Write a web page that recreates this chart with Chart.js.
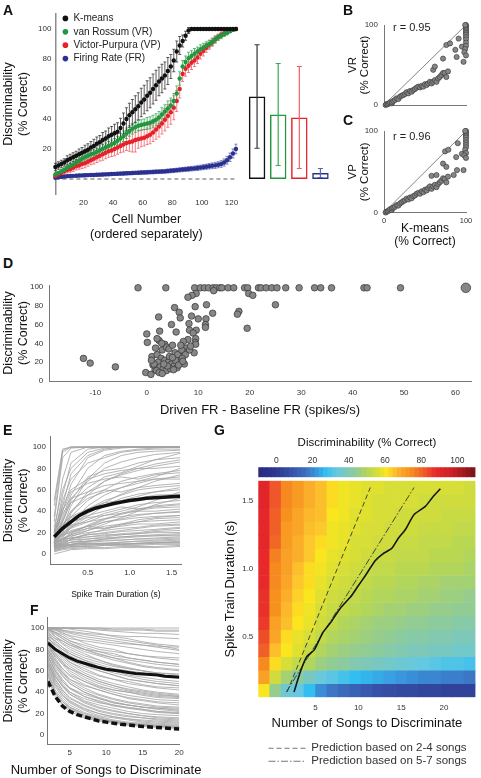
<!DOCTYPE html>
<html>
<head>
<meta charset="utf-8">
<title>Spike train discriminability</title>
<script src="https://cdn.jsdelivr.net/npm/chart.js@4.4.1/dist/chart.umd.min.js"></script>
<style>
  html, body { margin: 0; padding: 0; overflow: hidden; background: #fff; }
  body { position: relative; width: 481px; height: 778px; font-family: "Liberation Sans", Arial, sans-serif; color: #111; }
  canvas { position: absolute; }
  .panel { position: absolute; font-size: 14px; font-weight: bold; line-height: 1; }
  .note { position: absolute; font-size: 11px; line-height: 1; white-space: nowrap; color: #222; }
</style>
</head>
<body>
<canvas id="chartA" width="248" height="245" style="left:0px;top:0px"></canvas>
<canvas id="chartBars" width="100" height="245" style="left:240px;top:0px"></canvas>
<canvas id="legendA" width="115" height="140" style="left:59px;top:10px"></canvas>
<canvas id="chartB" width="141" height="108" style="left:340px;top:10px"></canvas>
<canvas id="chartC" width="141" height="135" style="left:340px;top:120px"></canvas>
<canvas id="chartD" width="481" height="150" style="left:0px;top:272px"></canvas>
<canvas id="chartE" width="195" height="180" style="left:0px;top:425px"></canvas>
<canvas id="chartF" width="212" height="173" style="left:0px;top:605px"></canvas>
<canvas id="chartG" width="260" height="263" style="left:221px;top:470px"></canvas>
<canvas id="colorbar" width="243" height="50" style="left:240px;top:430px"></canvas>
<canvas id="legendG" width="214" height="80" style="left:267px;top:741px"></canvas>

<div class="panel" style="left:3px;top:3px">A</div>
<div class="panel" style="left:343px;top:3px">B</div>
<div class="panel" style="left:343px;top:113px">C</div>
<div class="panel" style="left:3px;top:256px">D</div>
<div class="panel" style="left:3px;top:423px">E</div>
<div class="panel" style="left:30px;top:603px">F</div>
<div class="panel" style="left:214px;top:423px">G</div>
<div class="note" style="left:393px;top:21.6px">r = 0.95</div>
<div class="note" style="left:393px;top:130.6px">r = 0.96</div>

<script>
// ---------- A: per-cell discriminability, each metric sorted separately ----------
const cells = Array.from({ length: 62 }, (_, i) => 2 * i + 1); // every other cell
const kmeans = [8,9,10,11,12.5,13.5,14.5,15.5,16.5,17.5, 18.5,19.5,21,22,23.5,24.5,26,27,28.5,29.5,
  30.5,31.5,34,37,40,42.5,44.5,46.5,48.5,51, 53,55.5,57.5,60,62.5,65,67,69,72,75,
  79,85,89,92,95.5,99,100,100,100,100, 100,100,100,100,100,100,100,100,100,100, 100,100];
const kmeansErr = [2.5,2.5,2.5,2.5,3,3,3,3,3.5,3.5, 4,4,4,4.5,4.5,4.5,5,5,5.5,5.5,
  6,6,6.5,7,7.5,8,8.5,9,9,9.5, 9.5,10,10,10,10,9.5,9.5,9,9,8,
  7.5,7,6,4,3,2,0.5,0.5,0.5,0.5, 0.5,0.5,0.5,0.5,0.5,0.5,0.5,0.5,0.5,0.5, 0.5,0.5];
const vanRossum = [3,4,5,6,7.5,8.5,9.5,11,12,13.5, 14.5,15.5,16.5,17,18,19,20,21,22,23,
  24,25.5,27,28.5,30.5,32,33.5,34.5,35.5,36, 36.5,37,37.5,38.5,39.5,41,43,45,47,49,
  52,57,67,75,78,80.5,82,83.5,85,86.5, 87.5,89,90,91.5,93,94.5,95.5,96.5,97.5,98.5, 99.5,100];
const vanRossumErr = [1,1,1.5,1.5,1.5,2,2,2,2,2, 2.5,2.5,2.5,2.5,2.5,3,3,3,3,3,
  3,3,3.5,3.5,3.5,3.5,3.5,3.5,3.5,3.5, 3.5,4,4,4,4,4,4.5,4.5,5,5,
  5,5,4.5,4,4,4,3.5,3.5,3,3, 3,2.5,2.5,2.5,2,2,2,1.5,1.5,1, 1,0.5];
const victorPurpura = [2,3,4,5,6,6.5,7.5,8.5,9,10, 10.5,11.5,12.5,13.5,14.5,15.5,16.5,17.5,18.5,19,
  20,21,22,23,24,24.5,25,26,26.5,27, 27.5,28.5,29.5,31,33,35,37,39.5,42,44.5,
  47.5,52,60,70,73.5,75.5,77.5,79,81,83.5, 85.5,87.5,89.5,91,93,94.5,96,97,98,99, 99.5,100];
const victorPurpuraErr = [1,1.5,1.5,2,2,2,2.5,2.5,2.5,3, 3,3,3,3.5,3.5,3.5,4,4,4,4,
  4.5,4.5,4.5,5,5,6,7,8,6,5.5, 5.5,5.5,6,6,6.5,7,7,7.5,7.5,8,
  8,7,6,5,5,4.5,4.5,4,4,3.5, 3.5,3,3,2.5,2.5,2,2,1.5,1.5,1, 1,0.5];
const firingRate = [0.8,1.1,1.4,1.6,1.8,2,2.1,2.2,2.3,2.4, 2.5,2.6,2.7,2.7,2.8,2.9,3,3.1,3.2,3.3,
  3.4,3.5,3.6,3.7,3.8,3.9,4,4.1,4.2,4.3, 4.4,4.5,4.6,4.7,4.8,4.9,5,5.1,5.3,5.5,
  5.7,5.9,6.1,6.3,6.5,6.7,6.9,7.1,7.3,7.6, 7.9,8.2,8.5,8.8,9.1,9.5,10,11,12.5,14.5, 17,20];
const firingRateErr = [0.6,0.6,0.7,0.7,0.8,0.8,0.8,0.9,0.9,0.9, 1,1,1,1,1,1,1,1,1,1,
  1,1,1.1,1.1,1.1,1.1,1.1,1.1,1.1,1.1, 1.2,1.2,1.2,1.2,1.2,1.2,1.2,1.3,1.3,1.3,
  1.3,1.3,1.4,1.4,1.4,1.5,1.5,1.5,1.6,1.6, 1.7,1.7,1.8,1.9,2,2,2.2,2.4,2.6,2.8, 3,3.2];
const metricNames = ['K-means', 'van Rossum (VR)', 'Victor-Purpura (VP)', 'Firing Rate (FR)'];
const metricColors = ['#111111', '#23963f', '#e62129', '#2b318f'];
const errorColors = ['#333333', '#3aa955', '#f0606a', '#5a62b5'];
const aXTicks = [20, 40, 60, 80, 100, 120];
const aYTicks = [20, 40, 60, 80, 100];

// population means (bars)
const barMeans = [55, 43, 41, 4];
const barSd = [34.5, 34, 34, 3];

// ---------- B, C: K-means vs spike-distance metrics ----------
const kmVsVR = [[2,0],[3,1],[4.5,1],[6,2],[7.3,3.3],[9.4,2],[10,3.5],[11.4,5],[13.4,6.3],[15.4,8.3],
  [17.5,7.5],[19.5,10.4],[21.5,11.7],[23.6,12.5],[25.6,13.8],[27.6,16],[29.7,14.6],[31.7,17.5],[33.7,16.7],[35.8,18.8],
  [37.8,20],[39.8,21.7],[41.9,23],[44,22],[46,24],[48,23],[50,26],[52,25],[54,27],[56,29],
  [58,27],[60,29],[62,31],[64,29],[66,33],[68,35],[70,37.5],[72,40],[74,40],[76,35],
  [78,42],[60,44],[62,48],[72,58],[76,75],[80.5,77],[87,69],[88.6,60],[91,83],[95,73],
  [97,54],[100,100],[100,98],[100,96],[100,94],[100,92],[100,90],[100,88],[100,85],[100,82],
  [100,78],[100,74],[99,70],[98,66],[100,62],[99,100]];
const kmVsVP = [[2,0],[3,1],[4.5,1.5],[6,2.5],[7.3,4],[9.4,3],[10,5],[11.4,6],[13.4,7],[15.4,9],
  [17.5,8.5],[19.5,11],[21.5,12.5],[23.6,14],[25.6,15],[27.6,17],[29.7,16],[31.7,18.5],[33.7,17.5],[35.8,20],
  [37.8,21],[39.8,23],[41.9,24],[44,23],[46,26],[48,25],[50,28],[52,27],[54,30],[56,32],
  [58,29],[60,32],[62,34],[64,31],[66,35],[68,37],[70,39],[72,42],[74,41],[76,37],
  [78,44],[58,45],[64,46],[72,60],[76,56],[85,46],[89,52],[97,52],[74.5,75],[78.5,77],
  [90,85],[95,72],[88,68],[100,100],[100,98],[100,96],[100,94],[100,92],[100,89],[100,86],
  [100,83],[100,80],[99,77],[100,73],[98,70],[100,67],[99,100]];

// ---------- D: discriminability vs driven minus baseline firing rate ----------
const frDiff = [[-1.7,99],[3.7,99],[9.3,99],[10.4,99],[11.2,99],[12.0,99],[12.9,99],[13.5,99],[14.2,99],[14.6,99],
  [15.8,99],[16.9,99],[19.0,99],[19.6,99],[21.7,99],[22.2,99],[23.2,99],[24.3,99],[25.3,99],[27.0,99],
  [29.6,99],[32.6,99],[33.8,99],[35.9,99],[42.2,99],[42.8,99],[49.3,99],[62.0,99],
  [13.0,96],[9.6,93],[8.8,91],[8.0,89],[19.8,93],[20.6,91],[25.0,81],[17.9,74],[17.6,71],[19.5,56],
  [11.6,81],[12.8,72],[9.4,79],[5.4,78],[6.3,73],[6.5,67],[4.8,60],[5.7,52],[2.3,68],[2.5,53],
  [0.0,50],[0.1,41],[2.4,43],[3.5,39],[1.7,35],[8.7,69],[8.2,61],[8.3,54],[9.6,54],[11.5,66],
  [11.4,60],[11.4,57],[9.0,51],[9.5,45],[9.4,41],[9.5,39],[9.2,30],[8.0,44],[7.1,42],[7.7,35],
  [7.1,31],[6.5,26],[-12.3,24],[-11.0,19],[-6.1,15],[-0.2,9],[0.8,7],[1.6,12],[1.2,17],[1.0,26],
  [2.0,28],[3.0,33],[3.8,36],[4.3,34],[5.0,38],[5.5,30],[6.0,28],[6.8,33],[7.5,28],[8.3,33],
  [2.8,24],[3.5,22],[4.2,20],[4.8,18],[5.3,16],[5.9,14],[6.4,20],[6.9,24],[7.3,18],[2.2,20],
  [2.6,15],[3.2,13],[3.8,11],[4.6,13],[5.2,12],[1.9,11],[2.4,9],[3.0,8],[1.4,18],[0.9,22],
  [4.0,16],[5.6,22],[6.2,17],[7.0,21],[3.3,18],[4.4,26],[2.9,40],[2.0,45],[5.0,25],[6.6,38],
  [8.5,37],[10.0,66]];
const dXTicks = [-10, 0, 10, 20, 30, 40, 50, 60];
const dYTicks = [0, 20, 40, 60, 80, 100];

// ---------- E: discriminability vs spike train duration ----------
const eDur = [0.1, 0.2, 0.3, 0.5, 0.7, 0.9, 1.1, 1.3, 1.6];
const eCells = [
  [45,97,100,100,100,100,100,100,100], [30,90,99,100,100,100,100,100,100], [20,70,95,100,100,100,100,100,100],
  [15,55,85,98,100,100,100,100,100], [25,60,80,95,99,100,100,100,100], [12,40,65,90,97,99,100,100,100],
  [10,35,55,80,92,96,98,99,100], [18,50,70,85,90,95,97,98,98], [8,25,45,70,85,92,95,96,97],
  [14,30,50,72,78,80,85,88,90], [22,45,60,70,75,78,80,80,82], [10,25,40,55,68,75,80,84,88],
  [16,40,58,66,70,72,70,74,76], [12,20,35,50,60,68,72,75,78], [9,18,28,45,55,62,66,70,72],
  [20,38,48,55,60,58,62,64,66], [11,22,32,42,50,55,60,62,64], [7,15,25,35,45,52,56,58,60],
  [15,28,35,42,48,50,52,55,56], [10,20,25,32,38,42,46,48,50], [13,24,30,36,40,44,42,45,47],
  [8,14,20,26,32,38,42,44,46], [18,25,30,34,36,38,40,40,42], [6,12,18,24,30,33,36,38,40],
  [12,18,22,26,30,32,34,35,36], [9,14,18,22,26,28,30,31,32], [14,18,20,24,24,26,28,28,30],
  [6,10,14,18,20,22,24,26,27], [10,13,15,18,19,21,22,23,25], [5,8,11,14,16,18,19,21,22],
  [12,14,15,16,18,18,19,20,20], [7,9,11,12,14,15,16,17,18], [4,7,9,11,12,13,14,15,16],
  [9,10,11,12,13,13,14,14,15], [6,8,9,10,10,11,12,12,13], [3,5,7,8,9,9,10,11,11],
  [8,9,9,10,10,9,10,10,10], [5,6,7,7,8,8,8,9,9], [2,4,5,6,6,7,7,7,8], [0,2,4,5,5,6,6,6,7],
  [50,98,100,100,100,100,100,100,100], [11,30,48,62,72,76,82,88,94], [16,26,34,40,48,56,62,68,74],
  [6,11,16,22,28,34,40,46,52], [13,17,21,26,24,28,32,34,36],
  [35,95,100,100,100,100,100,100,100], [10,45,75,92,98,100,100,100,100], [14,32,52,68,80,86,90,93,95],
  [8,20,38,58,68,74,78,82,86], [12,26,40,52,58,62,68,72,80], [20,42,52,58,64,66,68,70,70],
  [9,16,26,38,46,50,54,58,62], [11,19,24,30,36,40,44,50,58], [7,13,19,27,33,37,41,43,44],
  [15,22,27,30,33,35,37,38,39], [5,9,14,19,23,27,30,33,34], [10,15,17,20,22,24,25,27,28],
  [8,11,13,16,17,19,20,22,24], [4,6,9,12,14,16,17,18,19], [11,12,13,14,15,16,17,17,17],
  [6,7,8,9,10,11,12,13,14], [3,5,6,7,8,9,9,10,12], [7,8,8,9,9,10,10,11,11]
];
const eMeanDur = [0.1,0.2,0.3,0.4,0.5,0.6,0.7,0.8,0.9,1.0,1.1,1.2,1.3,1.4,1.5,1.6];
const eMean = [16,24,30,36,40,43,45,47,48.5,50,51,52,52.5,53,53.5,54];
const eXTicks = [0.5, 1.0, 1.5];
const eYTicks = [0, 20, 40, 60, 80, 100];

// ---------- F: discriminability vs number of songs ----------
const fSongs = [2, 3, 4, 5, 7, 9, 11, 13, 15, 17, 20];
const fCells = [
  [100,100,100,100,100,100,100,100,100,100,100], [100,100,100,100,99,99,98,98,98,97,97],
  [100,99,98,97,95,94,93,92,92,91,90], [100,98,95,93,90,88,86,85,84,83,82],
  [100,96,92,88,84,80,78,76,74,73,72], [98,94,90,86,80,76,72,70,68,66,64],
  [96,90,85,80,74,70,66,63,60,58,56], [100,92,86,82,76,70,65,62,60,57,54],
  [94,86,80,74,68,62,58,55,52,50,48], [92,82,74,68,60,55,52,48,46,44,42],
  [90,80,72,66,58,52,48,45,42,40,38], [88,76,68,60,52,46,42,40,37,35,34],
  [85,72,62,55,47,42,38,35,33,31,30], [82,70,60,52,44,38,34,31,29,27,26],
  [80,66,56,48,40,34,30,28,26,24,22], [78,62,52,44,36,31,27,25,23,21,20],
  [75,58,48,40,32,28,25,22,20,19,18], [72,55,45,38,30,25,22,20,18,16,15],
  [70,52,42,34,27,22,19,17,16,14,13], [68,50,40,32,25,20,17,15,14,13,12],
  [65,47,37,30,23,18,16,14,12,11,10], [62,45,35,28,21,17,14,12,11,10,9],
  [60,42,33,26,20,16,13,11,10,9,8], [58,40,31,25,18,15,12,10,9,8,7],
  [55,38,29,24,17,14,12,10,9,8,7], [52,36,28,22,16,13,11,9,8,7,6],
  [100,100,98,96,94,92,90,88,86,84,80], [100,98,96,92,86,82,80,76,74,72,70],
  [95,90,88,84,80,78,74,72,70,68,66], [90,85,80,76,70,66,62,60,58,56,55],
  [86,80,74,70,64,60,56,52,50,48,46], [84,74,66,62,56,50,46,42,40,38,36],
  [76,66,58,52,46,42,38,34,32,30,28], [100,100,100,100,100,98,97,96,95,95,94],
  [98,96,94,90,88,86,84,82,80,78,76], [74,60,50,44,38,34,30,28,26,25,24],
  [66,54,46,40,34,30,28,25,24,22,21], [100,100,100,99,97,95,92,90,87,85,83],
  [92,88,82,78,72,68,64,62,60,58,57], [80,70,62,56,50,45,42,40,38,36,35],
  [100,100,100,100,100,100,99,99,99,98,98], [100,99,97,95,92,90,88,86,84,82,79],
  [97,92,88,84,78,74,70,67,64,62,60], [94,88,82,76,70,64,60,56,54,52,50],
  [88,80,74,68,62,56,52,50,47,45,44], [86,78,70,64,56,50,46,43,41,39,37],
  [82,74,66,58,50,44,40,37,35,33,32], [79,68,58,50,42,37,33,30,28,26,25],
  [73,60,50,43,36,32,28,26,24,22,20], [67,52,42,35,28,23,20,18,16,15,14],
  [64,48,38,31,24,20,17,15,13,12,11], [57,40,31,26,19,15,13,11,10,9,8],
  [100,96,92,88,82,78,76,72,70,68,66], [99,95,90,86,80,75,72,68,65,63,61],
  [91,84,78,72,66,60,56,52,50,48,46], [84,76,68,62,54,48,44,41,39,37,36],
  [77,64,55,48,40,35,31,28,26,25,23], [70,56,46,38,31,26,23,20,18,17,16]
];
const fMeanSongs = [2,3,4,5,6,7,8,9,10,11,12,13,14,15,16,17,18,19,20];
const fMean = [86,80,76,72,69,67,65,63,61.5,60.5,59.5,58.5,57.5,57,56.5,56,55,54.5,54];
const fChance = [50,36,27,22,19,17,15,13,12,11,10,9.5,8.5,8,7.5,7,6.5,6,5.5];
const fXTicks = [5, 10, 15, 20];

// ---------- G: mean discriminability by songs x duration ----------
const songs = [2,3,4,5,6,7,8,9,10,11,12,13,14,15,16,17,18,19,20];
const durRows = [1.6,1.5,1.4,1.3,1.2,1.1,1.0,0.9,0.8,0.7,0.6,0.5,0.4,0.3,0.2,0.1];
// one column per number of songs, values from 1.6 s (top) down to 0.1 s
const heatCols = [
  [84,84,83,83,83,82,82,82,81,81,80,78,76,71,67,59],
  [77,77,76,76,75,72,71,71,70,70,67,66,63,60,54,46],
  [71,71,70,68,68,67,67,66,65,64,63,60,59,55,48,38],
  [68,68,66,66,65,65,63,62,61,60,59,57,56,52,43,36],
  [65,65,64,63,62,62,60,60,59,58,57,55,53,50,40,31],
  [63,63,63,62,60,59,58,57,56,55,54,52,50,47,37,26],
  [60,60,59,58,58,57,56,55,54,53,52,50,48,45,35,23],
  [58,58,58,57,57,56,55,54,53,52,50,49,47,44,33,21],
  [57,57,56,56,55,55,54,53,52,51,49,48,46,42,31,19],
  [56,56,56,55,55,54,53,52,51,50,48,47,45,41,30,17],
  [56,55,55,55,54,53,52,51,50,49,47,46,44,40,29,15],
  [55,55,55,54,54,53,52,51,50,48,47,45,43,39,28,14],
  [55,55,54,54,53,52,51,50,49,48,46,44,42,38,27,13],
  [55,55,54,54,53,52,51,50,49,47,45,43,41,37,26,13],
  [55,54,54,53,52,52,51,49,48,47,45,43,41,36,25,12],
  [55,54,54,53,52,51,50,49,48,46,44,42,40,35,25,12],
  [55,54,53,53,52,51,50,48,47,46,44,42,40,34,24,11],
  [55,54,53,52,51,51,50,48,47,45,43,41,39,34,24,11],
  [54,54,53,52,51,50,49,48,46,45,43,41,39,33,23,11]
];
const gCurveSongs = [2.5,3.25,3.98,4.86,5.87,6.74,7.92,9.08,9.95,10.83,11.99,12.86,13.89,14.61,15.49,16.51,17.82,18.69,19.57];
const gCurveDur = [0.09,0.24,0.35,0.40,0.53,0.60,0.71,0.79,0.87,0.95,1.06,1.11,1.15,1.22,1.29,1.40,1.46,1.53,1.59];
const pred24Songs = [1.7, 11.4], pred24Dur = [0.09, 1.6];
const pred57Songs = [1.6, 16.5], pred57Dur = [0.09, 1.6];
const predLabels = ['Prediction based on 2-4 songs', 'Prediction based on 5-7 songs'];
const gXTicks = [5, 10, 15, 20];
const gYTicks = [0.5, 1.0, 1.5];
const cbTicks = [0, 20, 40, 60, 80, 100];

// ---------- shared settings ----------
Chart.defaults.font.family = '"Liberation Sans", Arial, Helvetica, sans-serif';
Chart.defaults.color = '#111';
Chart.defaults.animation = false;
Chart.defaults.responsive = false;
Chart.defaults.events = [];
Chart.defaults.plugins.legend.display = false;
Chart.defaults.plugins.tooltip.enabled = false;

const noGrid = { display: false, drawTicks: false };
const axisLine = { display: true, color: '#777', width: 1 };
const tickFont = { size: 8 };
const tickColor = '#333';
const fixW = w => s => { s.width = w; };
const fixH = h => s => { s.height = h; };
const useTicks = vals => s => { s.ticks = vals.map(v => ({ value: v })); };
const pts = (xs, ys) => xs.map((x, i) => ({ x, y: ys[i] }));
const pairs = list => list.map(([x, y]) => ({ x, y }));

// colour map of the heat map (value -> rgb)
const cmapStops = [
  [0, [40,40,125]], [8, [45,55,145]], [16, [55,85,170]], [22, [60,110,190]], [27, [58,150,222]],
  [31, [50,190,240]], [36, [100,200,225]], [41, [125,200,185]], [46, [150,205,140]], [51, [185,215,80]],
  [55, [215,222,55]], [59, [250,230,30]], [62, [253,200,45]], [66, [250,165,40]], [70, [247,145,30]],
  [76, [240,95,40]], [82, [232,40,43]], [90, [200,30,38]], [100, [120,20,20]]
];
function heatColor(v) {
  for (let i = 1; i < cmapStops.length; i++) {
    const [v1, c1] = cmapStops[i];
    if (v <= v1) {
      const [v0, c0] = cmapStops[i - 1];
      const t = (v - v0) / (v1 - v0);
      const c = c0.map((a, k) => Math.round(a + t * (c1[k] - a)));
      return `rgb(${c[0]},${c[1]},${c[2]})`;
    }
  }
  return 'rgb(120,20,20)';
}

// error bars drawn through the chart's own y scale
function drawErrors(chart, onTop) {
  const { ctx } = chart;
  const ys = chart.scales.y;
  for (let i = chart.data.datasets.length - 1; i >= 0; i--) {
    const ds = chart.data.datasets[i];
    if (!ds.errors || !!ds.errorsOnTop !== onTop) continue;
    const meta = chart.getDatasetMeta(i);
    const cap = ds.errorCap || 1.5;
    ctx.save();
    ctx.lineWidth = ds.errorWidth || 0.8;
    meta.data.forEach((el, j) => {
      const raw = ds.data[j];
      const v = typeof raw === 'object' ? raw.y : raw;
      const e = ds.errors[j];
      const yTop = ys.getPixelForValue(v + e);
      const yBot = ys.getPixelForValue(v - e);
      ctx.strokeStyle = Array.isArray(ds.errorColor) ? ds.errorColor[j] : ds.errorColor;
      ctx.beginPath();
      ctx.moveTo(el.x, yBot); ctx.lineTo(el.x, yTop);
      ctx.moveTo(el.x - cap, yTop); ctx.lineTo(el.x + cap, yTop);
      ctx.moveTo(el.x - cap, yBot); ctx.lineTo(el.x + cap, yBot);
      ctx.stroke();
    });
    ctx.restore();
  }
}
const errorBars = {
  id: 'errorBars',
  beforeDatasetsDraw(chart) { drawErrors(chart, false); },
  afterDatasetsDraw(chart) { drawErrors(chart, true); }
};

// ---------- A ----------
function metricSeries(k, values, errs) {
  return {
    label: metricNames[k], data: pts(cells, values), errors: errs, errorColor: errorColors[k],
    backgroundColor: metricColors[k], borderWidth: 0, pointRadius: 2.2, clip: false
  };
}
new Chart('chartA', {
  type: 'scatter',
  data: {
    datasets: [
      metricSeries(0, kmeans, kmeansErr),
      metricSeries(1, vanRossum, vanRossumErr),
      metricSeries(2, victorPurpura, victorPurpuraErr),
      metricSeries(3, firingRate, firingRateErr),
      { data: [{ x: 1, y: 0 }, { x: 124, y: 0 }], showLine: true, borderColor: '#333', borderWidth: 0.8,
        borderDash: [4, 3], pointRadius: 0 }
    ]
  },
  options: {
    layout: { padding: { top: 14, right: 10.6, left: 0, bottom: 0 } },
    scales: {
      x: {
        min: 1, max: 124, grid: noGrid, border: { display: false },
        afterBuildTicks: useTicks(aXTicks), afterFit: fixH(51),
        ticks: { font: tickFont, color: tickColor, padding: 4.2, autoSkip: false, maxRotation: 0 },
        title: { display: true, text: ['Cell Number', '(ordered separately)'], font: { size: 12.5 },
          padding: { top: 0, bottom: 2.5 } }
      },
      y: {
        min: -10, max: 110, grid: noGrid, border: { display: true, color: '#8c8c8c', width: 1.5 },
        afterBuildTicks: useTicks(aYTicks), afterFit: fixW(55.4),
        ticks: { font: tickFont, color: tickColor, padding: 4, autoSkip: false },
        title: { display: true, text: ['Discriminability', '(% Correct)'], font: { size: 12.5 },
          padding: { top: 1, bottom: 0 } }
      }
    }
  },
  plugins: [errorBars]
});

new Chart('chartBars', {
  type: 'bar',
  data: {
    labels: metricNames,
    datasets: [{
      data: barMeans, errors: barSd, errorColor: errorColors, errorsOnTop: true, errorCap: 2.5, errorWidth: 1.2,
      backgroundColor: 'rgba(255,255,255,0)', borderColor: metricColors, borderWidth: 1.5, borderSkipped: false,
      barPercentage: 0.78, categoryPercentage: 1
    }]
  },
  options: {
    layout: { padding: { top: 14, bottom: 51, left: 6.5, right: 9 } },
    scales: { x: { display: false }, y: { display: false, min: -10, max: 110 } }
  },
  plugins: [errorBars]
});

new Chart('legendA', {
  type: 'scatter',
  data: {
    datasets: metricNames.map((name, k) => ({
      label: name, data: [], backgroundColor: metricColors[k], borderColor: metricColors[k], borderWidth: 0
    }))
  },
  options: {
    scales: { x: { display: false }, y: { display: false } },
    plugins: {
      legend: {
        display: true, position: 'top', align: 'start',
        labels: { usePointStyle: true, pointStyle: 'circle', boxWidth: 6, boxHeight: 4,
          font: { size: 10 }, padding: 3.4, color: '#222' }
      }
    }
  }
});

// ---------- B, C ----------
const identity = [{ x: 0, y: 0 }, { x: 100, y: 100 }];
function comparisonChart(id, data, yName, withX, layoutPad, xHeight) {
  return new Chart(id, {
    type: 'scatter',
    data: {
      datasets: [
        { data: pairs(data), pointRadius: 2.6, backgroundColor: '#868686', borderColor: '#333',
          borderWidth: 0.6, clip: false },
        { data: identity, showLine: true, borderColor: '#666', borderWidth: 0.8, pointRadius: 0 }
      ]
    },
    options: {
      layout: { padding: layoutPad },
      scales: {
        x: {
          min: 0, max: 100, grid: noGrid, border: axisLine, afterFit: fixH(xHeight),
          afterBuildTicks: useTicks([0, 100]),
          ticks: { display: withX, font: { size: 7.5 }, color: tickColor, padding: 4, autoSkip: false, maxRotation: 0 },
          title: { display: withX, text: ['K-means', '(% Correct)'], font: { size: 12, lineHeight: 1.083 },
            padding: { top: 0, bottom: 6.8 } }
        },
        y: {
          min: 0, max: 100, grid: noGrid, border: axisLine, afterFit: fixW(44),
          afterBuildTicks: useTicks([0, 100]),
          ticks: { font: tickFont, color: tickColor, padding: 6, autoSkip: false },
          title: { display: true, text: [yName, '(% Correct)'], font: { size: 11.5, lineHeight: 1 },
            padding: { top: 7.5, bottom: 0 } }
        }
      }
    }
  });
}
comparisonChart('chartB', kmVsVR, 'VR', false, { top: 15, right: 15, left: 0, bottom: 8 }, 5);
comparisonChart('chartC', kmVsVP, 'VP', true, { top: 11, right: 15, left: 0, bottom: 0 }, 42.5);

// ---------- D ----------
new Chart('chartD', {
  type: 'scatter',
  data: {
    datasets: [{
      data: pairs(frDiff), backgroundColor: '#868686', borderColor: '#333', borderWidth: 0.7,
      pointRadius: c => (c.raw && c.raw.x > 60 ? 4.8 : 3.3), clip: false
    }]
  },
  options: {
    layout: { padding: { top: 13, right: 10, left: 0, bottom: 0 } },
    scales: {
      x: {
        min: -19, max: 63, grid: noGrid, border: axisLine, afterBuildTicks: useTicks(dXTicks), afterFit: fixH(41),
        ticks: { font: tickFont, color: tickColor, padding: 7.2, autoSkip: false, maxRotation: 0 },
        title: { display: true, text: 'Driven FR - Baseline FR (spikes/s)', font: { size: 13 },
          padding: { top: 0, bottom: 4.2 } }
      },
      y: {
        min: 0, max: 102, grid: noGrid, border: axisLine, afterBuildTicks: useTicks(dYTicks), afterFit: fixW(49),
        ticks: { font: tickFont, color: tickColor, padding: 5.7, autoSkip: false },
        title: { display: true, text: ['Discriminability', '(% Correct)'], font: { size: 12.5 },
          padding: { top: 0.8, bottom: 0 } }
      }
    }
  }
});

// ---------- E ----------
const grayLine = { borderColor: '#a3a3a3', borderWidth: 0.8, pointRadius: 0, showLine: true };
new Chart('chartE', {
  type: 'scatter',
  data: {
    datasets: [
      { data: pts(eMeanDur, eMean), borderColor: '#111', borderWidth: 3.5, pointRadius: 0, showLine: true },
      ...eCells.map(trace => ({ data: pts(eDur, trace), ...grayLine }))
    ]
  },
  options: {
    layout: { padding: { top: 11.3, right: 13.3, left: 0, bottom: 0 } },
    scales: {
      x: {
        min: 0.05, max: 1.62, grid: noGrid, border: axisLine, afterBuildTicks: useTicks(eXTicks), afterFit: fixH(40.3),
        ticks: { font: tickFont, color: tickColor, padding: 3.5, autoSkip: false, maxRotation: 0, callback: v => v.toFixed(1) },
        title: { display: true, text: 'Spike Train Duration (s)', font: { size: 8.5 }, padding: { top: 0, bottom: 4.9 } }
      },
      y: {
        min: -10, max: 110, grid: noGrid, border: axisLine, afterBuildTicks: useTicks(eYTicks), afterFit: fixW(50),
        ticks: { font: tickFont, color: tickColor, padding: 4, autoSkip: false },
        title: { display: true, text: ['Discriminability', '(% Correct)'], font: { size: 12.5 },
          padding: { top: 1, bottom: 0 } }
      }
    }
  }
});

// ---------- F ----------
new Chart('chartF', {
  type: 'scatter',
  data: {
    datasets: [
      { data: pts(fMeanSongs, fMean), borderColor: '#111', borderWidth: 3, pointRadius: 0, showLine: true },
      { data: pts(fMeanSongs, fChance), borderColor: '#111', borderWidth: 3.5, borderDash: [6, 3],
        pointRadius: 0, showLine: true },
      ...fCells.map(trace => ({ data: pts(fSongs, trace), ...grayLine }))
    ]
  },
  options: {
    layout: { padding: { top: 12.3, right: 0, left: 0, bottom: 0 } },
    plugins: {
      // full-width title so the long label is not squeezed into the narrow axis
      title: { display: true, position: 'bottom', text: 'Number of Songs to Discriminate',
        font: { size: 13, weight: 'normal' }, color: '#111', padding: { top: 0, bottom: 0 } }
    },
    scales: {
      x: {
        min: 2, max: 20, grid: noGrid, border: axisLine, afterBuildTicks: useTicks(fXTicks), afterFit: fixH(17.8),
        ticks: { font: tickFont, color: tickColor, padding: 3.6, autoSkip: false, maxRotation: 0 }
      },
      y: {
        min: -9, max: 110, grid: noGrid, border: axisLine, afterBuildTicks: useTicks(eYTicks), afterFit: fixW(47.9),
        ticks: { font: tickFont, color: tickColor, padding: 3.7, autoSkip: false },
        title: { display: true, text: ['Discriminability', '(% Correct)'], font: { size: 12.5 },
          padding: { top: 1, bottom: 0 } }
      },
      yr: {
        type: 'linear', position: 'right', grid: noGrid, border: { display: false },
        ticks: { display: false }, afterFit: fixW(32.7)
      }
    }
  }
});

// ---------- G ----------
const heatRows = durRows.map((d, r) => ({
  type: 'bar', xAxisID: 'x', yAxisID: 'y',
  data: songs.map(() => [d - 0.05, d + 0.05]),
  backgroundColor: heatCols.map(col => heatColor(col[r])),
  borderWidth: 0, grouped: false, barPercentage: 1, categoryPercentage: 1
}));
const predStyles = [[5, 3], [7, 2, 1.5, 2]];
new Chart('chartG', {
  type: 'bar',
  data: {
    labels: songs,
    datasets: [
      { type: 'line', xAxisID: 'xl', data: pts(gCurveSongs, gCurveDur), borderColor: '#151515',
        borderWidth: 1.6, pointRadius: 0, tension: 0.2 },
      { type: 'line', xAxisID: 'xl', data: pts(pred24Songs, pred24Dur), borderColor: '#333',
        borderWidth: 0.9, borderDash: predStyles[0], pointRadius: 0 },
      { type: 'line', xAxisID: 'xl', data: pts(pred57Songs, pred57Dur), borderColor: '#333',
        borderWidth: 0.9, borderDash: predStyles[1], pointRadius: 0 },
      ...heatRows
    ]
  },
  options: {
    layout: { padding: { top: 10.7, right: 5.5, left: 0, bottom: 0 } },
    scales: {
      x: { display: false },
      xl: {
        type: 'linear', position: 'bottom', min: 1.5, max: 20.5, grid: noGrid, border: { display: false },
        afterBuildTicks: useTicks(gXTicks), afterFit: fixH(35.7),
        ticks: { font: tickFont, color: tickColor, padding: 6, autoSkip: false, maxRotation: 0 },
        title: { display: true, text: 'Number of Songs to Discriminate', font: { size: 13 },
          padding: { top: 0, bottom: 2.2 } }
      },
      y: {
        min: 0.05, max: 1.65, grid: noGrid, border: { display: false },
        afterBuildTicks: useTicks(gYTicks), afterFit: fixW(37.3),
        ticks: { font: tickFont, color: tickColor, padding: 5, autoSkip: false, callback: v => v.toFixed(1) },
        title: { display: true, text: 'Spike Train Duration (s)', font: { size: 13 },
          padding: { top: 1.2, bottom: 0 } }
      }
    }
  }
});

// colour bar
const cbLevels = Array.from({ length: 50 }, (_, i) => i * 2);
new Chart('colorbar', {
  type: 'bar',
  data: {
    labels: cbLevels,
    datasets: [{ data: cbLevels.map(() => 1), backgroundColor: cbLevels.map(v => heatColor(v + 1)),
      borderWidth: 0, barPercentage: 1, categoryPercentage: 1 }]
  },
  options: {
    layout: { padding: { left: 18.3, right: 7.5, top: 0, bottom: 2.7 } },
    scales: {
      x: { display: false },
      xt: {
        type: 'linear', position: 'top', min: 0, max: 100, grid: noGrid, border: { display: false },
        afterBuildTicks: useTicks(cbTicks), afterFit: fixH(37.3),
        ticks: { font: { size: 8.5 }, color: tickColor, padding: 1.2, autoSkip: false, maxRotation: 0 },
        title: { display: true, text: 'Discriminability (% Correct)', font: { size: 11.5 },
          padding: { top: 6.1, bottom: 0 } }
      },
      y: { display: false, min: 0, max: 1 }
    }
  }
});

// legend of the two predictions
new Chart('legendG', {
  type: 'line',
  data: {
    datasets: predLabels.map((label, k) => ({
      label, data: [], borderColor: '#777', borderWidth: 1, borderDash: predStyles[k]
    }))
  },
  options: {
    scales: { x: { display: false }, y: { display: false } },
    plugins: {
      legend: {
        display: true, position: 'top', align: 'start',
        labels: {
          usePointStyle: true, pointStyle: 'line', pointStyleWidth: 37, font: { size: 11.5 },
          padding: 1.5, color: '#333',
          generateLabels(chart) {
            const items = Chart.defaults.plugins.legend.labels.generateLabels(chart);
            items.forEach(it => {
              const ds = chart.data.datasets[it.datasetIndex];
              it.lineDash = ds.borderDash;
              it.lineWidth = ds.borderWidth;
              it.strokeStyle = ds.borderColor;
            });
            return items;
          }
        }
      }
    }
  }
});
</script>
</body>
</html>
